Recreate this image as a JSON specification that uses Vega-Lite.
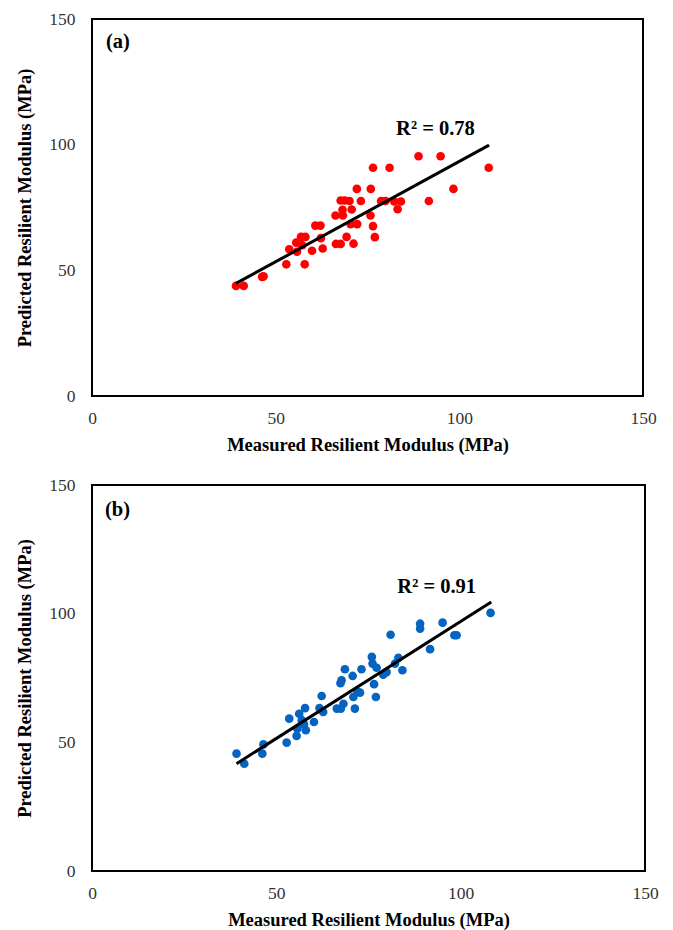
{
  "$schema": "https://vega.github.io/schema/vega-lite/v6.json",
  "background": "white",
  "padding": {"left": 14, "top": 9, "right": 5, "bottom": 5},
  "spacing": 89,
  "bounds": "flush",
  "config": {
    "view": {"stroke": "black", "strokeWidth": 2},
    "axis": {
      "grid": false, "ticks": false, "domain": false, "labelFlush": false,
      "labelFont": "Liberation Serif", "labelFontSize": 17.5, "labelColor": "#333333",
      "titleFont": "Liberation Serif", "titleFontSize": 18.5, "titleFontWeight": "bold", "titleColor": "black"
    },
    "axisX": {"labelPadding": 13, "titlePadding": 9},
    "axisY": {"labelPadding": 17, "titlePadding": 14}
  },
  "vconcat": [
    {
      "width": 551, "height": 377,
      "layer": [
        {
          "data": {"values": [
            {"measured": 39.2, "predicted": 43.8}, {"measured": 41.3, "predicted": 43.8}, {"measured": 46.3, "predicted": 47.4}, {"measured": 46.7, "predicted": 47.6},
            {"measured": 52.9, "predicted": 52.4}, {"measured": 57.9, "predicted": 52.4},
            {"measured": 53.7, "predicted": 58.4}, {"measured": 55.8, "predicted": 57.4}, {"measured": 55.6, "predicted": 61.0}, {"measured": 56.9, "predicted": 63.3}, {"measured": 58.1, "predicted": 63.3}, {"measured": 57.2, "predicted": 60.0},
            {"measured": 59.9, "predicted": 57.8}, {"measured": 60.8, "predicted": 67.8}, {"measured": 62.2, "predicted": 67.8}, {"measured": 62.3, "predicted": 62.8}, {"measured": 62.8, "predicted": 58.7},
            {"measured": 66.3, "predicted": 71.8}, {"measured": 66.4, "predicted": 60.5}, {"measured": 67.7, "predicted": 60.5},
            {"measured": 67.7, "predicted": 77.8}, {"measured": 68.8, "predicted": 77.8}, {"measured": 68.2, "predicted": 74.1}, {"measured": 68.3, "predicted": 71.8}, {"measured": 69.3, "predicted": 63.3}, {"measured": 70.1, "predicted": 77.6}, {"measured": 70.4, "predicted": 68.4}, {"measured": 70.7, "predicted": 74.2}, {"measured": 71.2, "predicted": 60.6},
            {"measured": 72.1, "predicted": 82.4}, {"measured": 72.2, "predicted": 68.4}, {"measured": 73.2, "predicted": 77.6},
            {"measured": 75.8, "predicted": 71.8}, {"measured": 75.9, "predicted": 82.4}, {"measured": 76.5, "predicted": 90.8}, {"measured": 76.5, "predicted": 67.6}, {"measured": 77.0, "predicted": 63.2},
            {"measured": 78.7, "predicted": 77.6}, {"measured": 79.9, "predicted": 77.6}, {"measured": 81.0, "predicted": 90.8}, {"measured": 82.3, "predicted": 77.4}, {"measured": 83.2, "predicted": 74.3}, {"measured": 84.1, "predicted": 77.4},
            {"measured": 88.9, "predicted": 95.4}, {"measured": 91.7, "predicted": 77.6}, {"measured": 94.9, "predicted": 95.4}, {"measured": 98.4, "predicted": 82.4}, {"measured": 108.0, "predicted": 90.8}
          ]},
          "mark": {"type": "circle", "color": "#FF0000", "size": 75, "opacity": 1},
          "encoding": {
            "x": {"field": "measured", "type": "quantitative", "scale": {"domain": [0, 150], "nice": false}, "axis": {"values": [0, 50, 100, 150], "title": "Measured Resilient Modulus (MPa)"}},
            "y": {"field": "predicted", "type": "quantitative", "scale": {"domain": [0, 150], "nice": false}, "axis": {"values": [0, 50, 100, 150], "title": "Predicted Resilient Modulus (MPa)"}}
          }
        },
        {
          "data": {"values": [{"measured": 39.2, "predicted": 44.8}, {"measured": 108.1, "predicted": 99.8}]},
          "mark": {"type": "line", "color": "black", "strokeWidth": 3},
          "encoding": {"x": {"field": "measured", "type": "quantitative"}, "y": {"field": "predicted", "type": "quantitative"}}
        },
        {
          "data": {"values": [{"measured": 93.5, "predicted": 106.1, "label": "R² = 0.78"}]},
          "mark": {"type": "text", "font": "Liberation Serif", "fontSize": 20.5, "fontWeight": "bold", "align": "center", "baseline": "middle", "color": "black"},
          "encoding": {"x": {"field": "measured", "type": "quantitative"}, "y": {"field": "predicted", "type": "quantitative"}, "text": {"field": "label"}}
        },
        {
          "data": {"values": [{"measured": 3.8, "predicted": 140.9, "label": "(a)"}]},
          "mark": {"type": "text", "font": "Liberation Serif", "fontSize": 20.5, "fontWeight": "bold", "align": "left", "baseline": "middle", "color": "black"},
          "encoding": {"x": {"field": "measured", "type": "quantitative"}, "y": {"field": "predicted", "type": "quantitative"}, "text": {"field": "label"}}
        }
      ]
    },
    {
      "width": 553, "height": 386,
      "layer": [
        {
          "data": {"values": [
            {"measured": 39.2, "predicted": 45.6}, {"measured": 41.3, "predicted": 41.7}, {"measured": 46.2, "predicted": 45.6}, {"measured": 46.5, "predicted": 49.2},
            {"measured": 52.8, "predicted": 49.9}, {"measured": 53.5, "predicted": 59.2}, {"measured": 55.5, "predicted": 52.5}, {"measured": 55.7, "predicted": 55.3}, {"measured": 56.2, "predicted": 61.1}, {"measured": 56.9, "predicted": 58.6}, {"measured": 57.8, "predicted": 63.3}, {"measured": 58.0, "predicted": 54.7}, {"measured": 57.5, "predicted": 57.0},
            {"measured": 60.2, "predicted": 57.9}, {"measured": 61.7, "predicted": 63.3}, {"measured": 62.3, "predicted": 68.0}, {"measured": 62.7, "predicted": 61.8},
            {"measured": 66.4, "predicted": 63.1}, {"measured": 67.5, "predicted": 63.1}, {"measured": 67.7, "predicted": 74.1}, {"measured": 67.4, "predicted": 73.0}, {"measured": 68.6, "predicted": 78.4}, {"measured": 68.2, "predicted": 65.0},
            {"measured": 70.7, "predicted": 75.8}, {"measured": 70.9, "predicted": 67.6}, {"measured": 71.3, "predicted": 63.1}, {"measured": 72.0, "predicted": 69.6}, {"measured": 72.7, "predicted": 69.3}, {"measured": 73.1, "predicted": 78.4},
            {"measured": 75.9, "predicted": 83.2}, {"measured": 76.1, "predicted": 80.6}, {"measured": 76.5, "predicted": 72.6}, {"measured": 77.0, "predicted": 67.6}, {"measured": 77.2, "predicted": 79.0},
            {"measured": 79.0, "predicted": 76.3}, {"measured": 79.9, "predicted": 77.3}, {"measured": 81.0, "predicted": 91.8}, {"measured": 82.2, "predicted": 80.6}, {"measured": 83.1, "predicted": 82.8}, {"measured": 84.2, "predicted": 78.0},
            {"measured": 89.0, "predicted": 96.1}, {"measured": 89.0, "predicted": 94.2}, {"measured": 91.7, "predicted": 86.2}, {"measured": 95.1, "predicted": 96.5}, {"measured": 98.3, "predicted": 91.6}, {"measured": 98.9, "predicted": 91.6}, {"measured": 108.1, "predicted": 100.3}
          ]},
          "mark": {"type": "circle", "color": "#0563C1", "size": 75, "opacity": 1},
          "encoding": {
            "x": {"field": "measured", "type": "quantitative", "scale": {"domain": [0, 150], "nice": false}, "axis": {"values": [0, 50, 100, 150], "title": "Measured Resilient Modulus (MPa)"}},
            "y": {"field": "predicted", "type": "quantitative", "scale": {"domain": [0, 150], "nice": false}, "axis": {"values": [0, 50, 100, 150], "title": "Predicted Resilient Modulus (MPa)"}}
          }
        },
        {
          "data": {"values": [{"measured": 39.2, "predicted": 41.7}, {"measured": 108.3, "predicted": 104.5}]},
          "mark": {"type": "line", "color": "black", "strokeWidth": 3},
          "encoding": {"x": {"field": "measured", "type": "quantitative"}, "y": {"field": "predicted", "type": "quantitative"}}
        },
        {
          "data": {"values": [{"measured": 93.5, "predicted": 110.4, "label": "R² = 0.91"}]},
          "mark": {"type": "text", "font": "Liberation Serif", "fontSize": 20.5, "fontWeight": "bold", "align": "center", "baseline": "middle", "color": "black"},
          "encoding": {"x": {"field": "measured", "type": "quantitative"}, "y": {"field": "predicted", "type": "quantitative"}, "text": {"field": "label"}}
        },
        {
          "data": {"values": [{"measured": 3.5, "predicted": 140.3, "label": "(b)"}]},
          "mark": {"type": "text", "font": "Liberation Serif", "fontSize": 20.5, "fontWeight": "bold", "align": "left", "baseline": "middle", "color": "black"},
          "encoding": {"x": {"field": "measured", "type": "quantitative"}, "y": {"field": "predicted", "type": "quantitative"}, "text": {"field": "label"}}
        }
      ]
    }
  ]
}
